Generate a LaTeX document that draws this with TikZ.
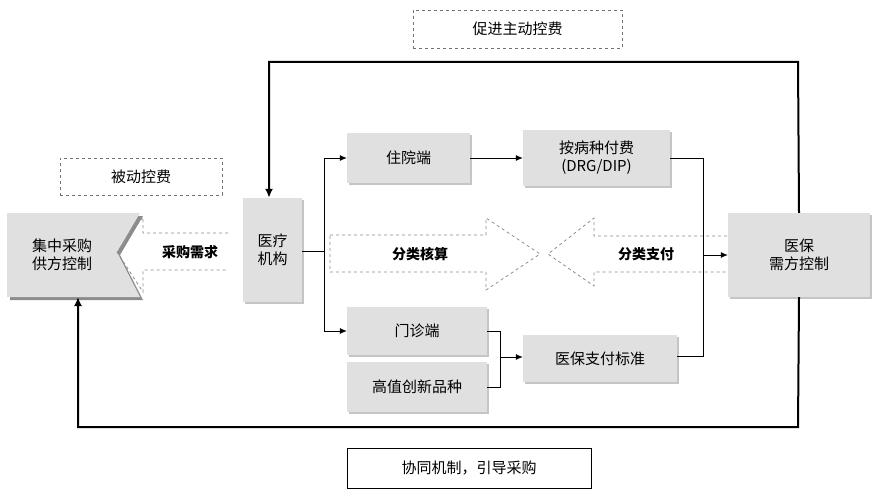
\documentclass[tikz,border=0pt]{standalone}
\usepackage{fontspec}
\setmainfont{Noto Sans CJK SC}
\usetikzlibrary{arrows.meta,shadows}
\begin{document}
\begin{tikzpicture}[x=1pt,y=-1pt,
 gbox/.style={draw=none,fill=black!12,drop shadow={shadow xshift=2pt,shadow yshift=-2pt,fill=black!45},font=\fontsize{15}{18}\selectfont,align=center,inner sep=0pt},
 dbox/.style={draw=black!55,dashed,font=\fontsize{15}{18}\selectfont,inner sep=0pt},
 dar/.style={draw=black!45,dashed,line width=0.8pt},
 thin/.style={line width=0.8pt,-{Latex[length=7pt,width=6pt]}},
 thick/.style={line width=2pt,-{Latex[length=9pt,width=8pt]}},
 bt/.style={font=\bfseries\fontsize{14}{16}\selectfont}]
\useasboundingbox (0,0) rectangle (877,497);
\node[dbox,minimum width=209,minimum height=38] (top) at (517.5,29) {促进主动控费};
\node[draw,line width=0.8pt,font=\fontsize{15}{18}\selectfont,minimum width=244,minimum height=40] (bot) at (469,468) {协同机制，引导采购};
\node[dbox,minimum width=162,minimum height=37] (pas) at (141,176.5) {被动控费};
% left gray box with notch
\fill[black!45] (10,216)--(143,216)--(120,255)--(143,300)--(10,300)--cycle;
\fill[black!12] (7,213)--(140,213)--(117,252)--(140,297)--(7,297)--cycle;
\node[font=\fontsize{15}{18}\selectfont,align=center] (jz) at (62,255) {集中采购\\供方控制};
\coordinate (jzb) at (78,297);
\node[gbox,minimum width=59,minimum height=104] (yl) at (272.5,250) {医疗\\机构};
\node[gbox,minimum width=123,minimum height=50] (zy) at (408.5,158) {住院端};
\node[gbox,minimum width=140,minimum height=48] (mz) at (417,331) {门诊端};
\node[gbox,minimum width=140,minimum height=50] (gz) at (417,387) {高值创新品种};
\node[gbox,minimum width=147,minimum height=56] (ab) at (596.5,158) {按病种付费\\(DRG/DIP)};
\node[gbox,minimum width=154,minimum height=47] (zf) at (600,358.5) {医保支付标准};
\node[gbox,minimum width=142,minimum height=84] (yb) at (799,255) {医保\\需方控制};
% dashed arrows
\draw[dar] (228,233)--(143,233)--(143,217)--(117,252)--(143,292)--(143,270)--(228,270);
\node[bt] (cg) at (190,252) {采购需求};
\draw[dar] (330,235)--(486,235)--(486,218)--(540,254)--(486,290)--(486,272)--(330,272)--cycle;
\node[bt] (fh) at (420,254) {分类核算};
\draw[dar] (727,236)--(594,236)--(594,218)--(548,254)--(594,286)--(594,272)--(727,272);
\node[bt] (fz) at (646,254) {分类支付};
% thin connectors
\draw[line width=0.8pt] (yl.east|-0,251) -- (324,251);
\draw[thin] (324,158) |- (zy.west);
\draw[thin] (324,158) -- (324,331) -- (mz.west);
\draw[thin] (zy.east) -- (ab.west);
\draw[line width=0.8pt] (mz.east) -- (500,331) -- (500,387) -- (gz.east);
\draw[thin] (500,357) -- (zf.west|-0,357);
\draw[line width=0.8pt] (ab.east) -- (703,158) -- (703,356) -- (zf.east|-0,356);
\draw[thin] (703,255) -- (yb.west|-0,255);
% thick loops
\draw[thick] (yb.north) -- (798,62) -- (269,62) -- (yl.north-|269,0);
\draw[thick] (yb.south) -- (798,427) -- (78,427) -- (jzb);
\end{tikzpicture}
\end{document}
